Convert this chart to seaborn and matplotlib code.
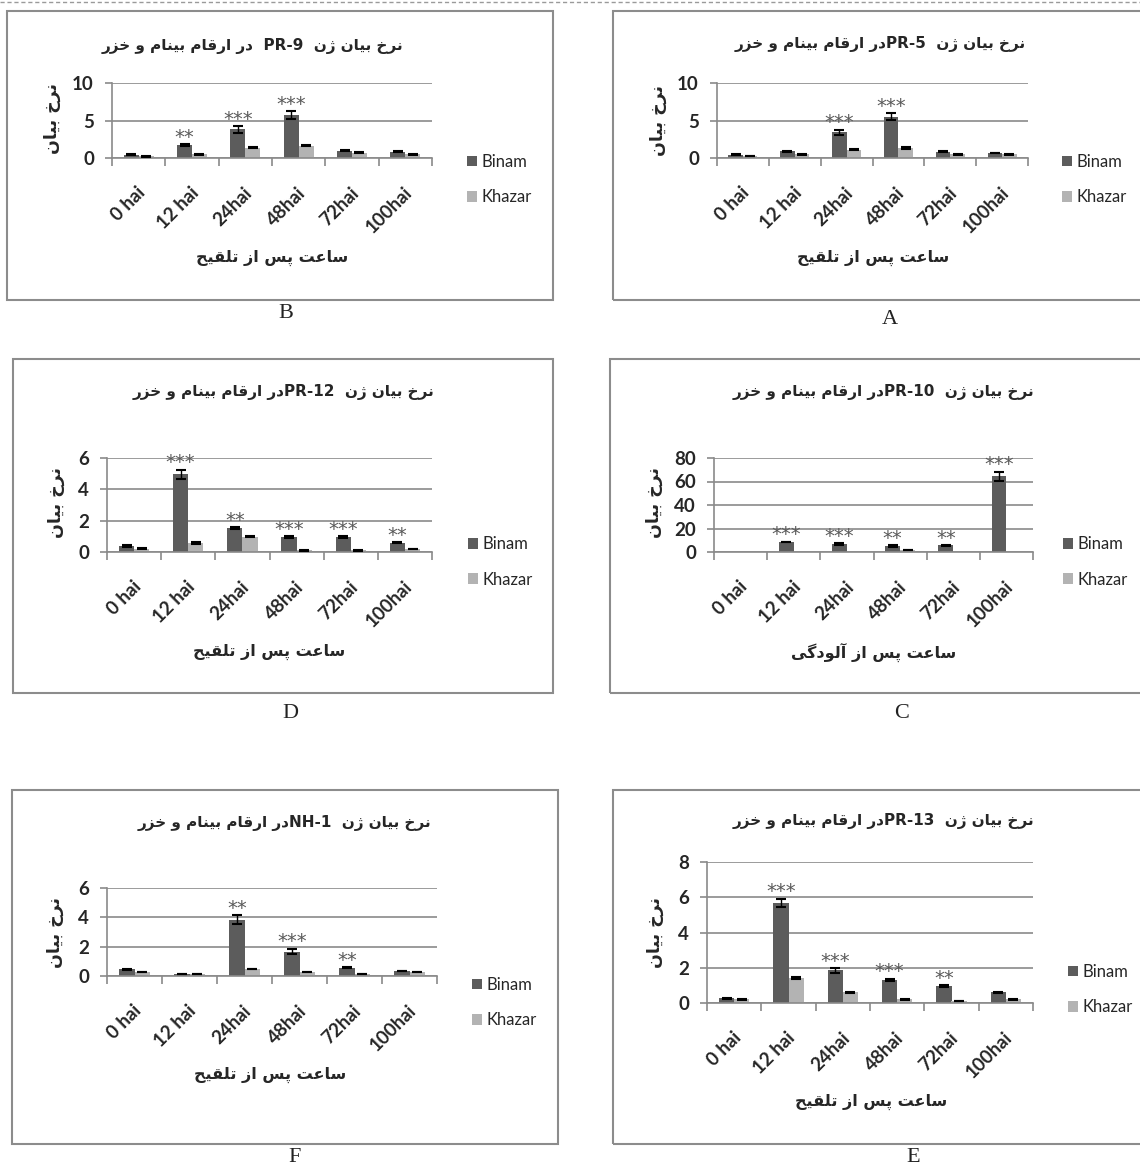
import re
import numpy as np
import pandas as pd
import matplotlib
matplotlib.use("Agg")
import matplotlib.pyplot as plt
import seaborn as sns
from matplotlib.patches import Rectangle
from matplotlib.lines import Line2D
from matplotlib.transforms import ScaledTranslation

# ---------------------------------------------------------------- data
hours = ["0 hai", "12 hai", "24hai", "48hai", "72hai", "100hai"]
varieties = ["Binam", "Khazar"]

# A: PR-5
pr5_binam = [0.44, 0.88, 3.44, 5.5, 0.84, 0.66]
pr5_khazar = [0.26, 0.48, 1.1, 1.32, 0.48, 0.48]
pr5_binam_err = [0.05, 0.05, 0.35, 0.45, 0.05, 0.05]
pr5_khazar_err = [0.03, 0.03, 0.05, 0.12, 0.03, 0.03]
pr5_stars = ["", "", "***", "***", "", ""]

# B: PR-9
pr9_binam = [0.44, 1.72, 3.83, 5.73, 1.0, 0.84]
pr9_khazar = [0.22, 0.48, 1.4, 1.63, 0.7, 0.48]
pr9_binam_err = [0.05, 0.12, 0.45, 0.55, 0.1, 0.08]
pr9_khazar_err = [0.03, 0.05, 0.05, 0.05, 0.05, 0.05]
pr9_stars = ["", "**", "***", "***", "", ""]

# C: PR-10
pr10_binam = [0.0, 8.5, 6.5, 5.1, 5.7, 64.5]
pr10_khazar = [0.0, 0.0, 0.0, 1.8, 0.0, 0.0]
pr10_binam_err = [0.0, 0.4, 0.8, 0.8, 0.4, 4.0]
pr10_khazar_err = [0.0, 0.0, 0.0, 0.2, 0.0, 0.0]
pr10_stars = ["", "***", "***", "**", "**", "***"]

# D: PR-12
pr12_binam = [0.38, 4.96, 1.55, 0.96, 0.96, 0.6]
pr12_khazar = [0.21, 0.6, 0.96, 0.1, 0.1, 0.2]
pr12_binam_err = [0.04, 0.3, 0.06, 0.04, 0.04, 0.05]
pr12_khazar_err = [0.02, 0.06, 0.03, 0.02, 0.02, 0.02]
pr12_stars = ["", "***", "**", "***", "***", "**"]

# E: PR-13
pr13_binam = [0.28, 5.67, 1.85, 1.32, 0.95, 0.6]
pr13_khazar = [0.2, 1.42, 0.6, 0.2, 0.1, 0.2]
pr13_binam_err = [0.03, 0.25, 0.15, 0.06, 0.05, 0.03]
pr13_khazar_err = [0.02, 0.06, 0.03, 0.02, 0.01, 0.02]
pr13_stars = ["", "***", "***", "***", "**", ""]

# F: NH-1
nh1_binam = [0.45, 0.15, 3.84, 1.67, 0.57, 0.34]
nh1_khazar = [0.27, 0.15, 0.48, 0.27, 0.15, 0.27]
nh1_binam_err = [0.04, 0.02, 0.3, 0.2, 0.05, 0.03]
nh1_khazar_err = [0.03, 0.02, 0.03, 0.03, 0.02, 0.03]
nh1_stars = ["", "", "**", "***", "**", ""]

genes = {"A": "PR-5", "B": "PR-9", "C": "PR-10", "D": "PR-12", "E": "PR-13", "F": "NH-1"}
panel_values = {
    "A": (pr5_binam, pr5_khazar, pr5_binam_err, pr5_khazar_err, pr5_stars),
    "B": (pr9_binam, pr9_khazar, pr9_binam_err, pr9_khazar_err, pr9_stars),
    "C": (pr10_binam, pr10_khazar, pr10_binam_err, pr10_khazar_err, pr10_stars),
    "D": (pr12_binam, pr12_khazar, pr12_binam_err, pr12_khazar_err, pr12_stars),
    "E": (pr13_binam, pr13_khazar, pr13_binam_err, pr13_khazar_err, pr13_stars),
    "F": (nh1_binam, nh1_khazar, nh1_binam_err, nh1_khazar_err, nh1_stars),
}
y_ticks = {
    "A": [0, 5, 10], "B": [0, 5, 10], "C": [0, 20, 40, 60, 80],
    "D": [0, 2, 4, 6], "E": [0, 2, 4, 6, 8], "F": [0, 2, 4, 6],
}

title_text = {
    "B": "نرخ بیان ژن  PR-9  در ارقام بینام و خزر",
}
for k, g in genes.items():
    title_text.setdefault(k, f"نرخ بیان ژن  {g}در ارقام بینام و خزر")
ylabel_text = "نرخ بیان"
xlabel_text = {k: "ساعت پس از تلقیح" for k in genes}
xlabel_text["C"] = "ساعت پس از آلودگی"

# ---------------------------------------------------------------- Persian shaping
# isolated, final, initial, medial presentation forms
FORMS = {
    "ا": ("\uFE8D", "\uFE8E", None, None),
    "آ": ("\uFE81", "\uFE82", None, None),
    "ب": ("\uFE8F", "\uFE90", "\uFE91", "\uFE92"),
    "پ": ("\uFB56", "\uFB57", "\uFB58", "\uFB59"),
    "ت": ("\uFE95", "\uFE96", "\uFE97", "\uFE98"),
    "ح": ("\uFEA1", "\uFEA2", "\uFEA3", "\uFEA4"),
    "خ": ("\uFEA5", "\uFEA6", "\uFEA7", "\uFEA8"),
    "د": ("\uFEA9", "\uFEAA", None, None),
    "ر": ("\uFEAD", "\uFEAE", None, None),
    "ز": ("\uFEAF", "\uFEB0", None, None),
    "ژ": ("\uFB8A", "\uFB8B", None, None),
    "س": ("\uFEB1", "\uFEB2", "\uFEB3", "\uFEB4"),
    "ع": ("\uFEC9", "\uFECA", "\uFECB", "\uFECC"),
    "ق": ("\uFED5", "\uFED6", "\uFED7", "\uFED8"),
    "گ": ("\uFB92", "\uFB93", "\uFB94", "\uFB95"),
    "ل": ("\uFEDD", "\uFEDE", "\uFEDF", "\uFEE0"),
    "م": ("\uFEE1", "\uFEE2", "\uFEE3", "\uFEE4"),
    "ن": ("\uFEE5", "\uFEE6", "\uFEE7", "\uFEE8"),
    "و": ("\uFEED", "\uFEEE", None, None),
    "ی": ("\uFBFC", "\uFBFD", "\uFBFE", "\uFBFF"),
}


def shape(s):
    out = []
    for i, ch in enumerate(s):
        f = FORMS.get(ch)
        if f is None:
            out.append(ch)
            continue
        prev = s[i - 1] if i > 0 else None
        nxt = s[i + 1] if i + 1 < len(s) else None
        jp = prev in FORMS and FORMS[prev][2] is not None
        jn = f[2] is not None and nxt in FORMS
        out.append(f[3] if jp and jn else f[1] if jp else f[2] if jn else f[0])
    return "".join(out)


def rtl(text):
    runs = re.findall(r"[A-Za-z0-9\-]+|[^A-Za-z0-9\-]+", text)
    vis = []
    for r in reversed(runs):
        vis.append(r if re.match(r"[A-Za-z0-9\-]", r) else shape(r)[::-1])
    return "".join(vis)


# ---------------------------------------------------------------- layout (pixels)
W, H = 1140, 1169
layout = {
    "A": dict(box=(613, 11, 1150, 300), axes=(717, 83, 1028, 158), title=(880, 44),
              ylabel=(658, 120), xlabel=(873, 258), legend=(1062, 162, 197), letter=(890, 319)),
    "B": dict(box=(7, 11, 553, 300), axes=(112, 83, 432, 158), title=(252, 46),
              ylabel=(52, 119), xlabel=(272, 258), legend=(467, 162, 197), letter=(286, 314)),
    "C": dict(box=(610, 359, 1150, 693), axes=(714, 458, 1033, 552), title=(883, 392),
              ylabel=(654, 503), xlabel=(874, 652), legend=(1063, 544, 580), letter=(902, 713)),
    "D": dict(box=(13, 359, 553, 693), axes=(107, 458, 432, 552), title=(283, 392),
              ylabel=(56, 503), xlabel=(269, 652), legend=(468, 544, 580), letter=(290, 713)),
    "E": dict(box=(613, 790, 1150, 1144), axes=(707, 862, 1033, 1003), title=(883, 821),
              ylabel=(655, 932), xlabel=(871, 1102), legend=(1068, 972, 1007), letter=(913, 1157)),
    "F": dict(box=(12, 790, 558, 1144), axes=(107, 888, 437, 976), title=(284, 823),
              ylabel=(55, 932), xlabel=(270, 1075), legend=(472, 985, 1020), letter=(295, 1157)),
}

sns.set_style("white")
plt.rcParams["font.family"] = ["Lato", "DejaVu Sans"]

GRID = "#8a8a8a"
palette = {"Binam": "#5c5c5c", "Khazar": "#b3b3b3"}
PERSIAN = ["DejaVu Sans"]

fig = plt.figure(figsize=(W / 100, H / 100), dpi=100)


def fx(px):
    return px / W


def fy(py):
    return 1 - py / H


# dashed rule along the top
fig.add_artist(Line2D([0, 1], [fy(1.5), fy(1.5)], transform=fig.transFigure,
                      color="#9a9a9a", lw=1.0, ls=(0, (3, 2))))

for key, lay in layout.items():
    binam, khazar, berr, kerr, stars = panel_values[key]
    bx0, by0, bx1, by1 = lay["box"]
    fig.add_artist(Rectangle((fx(bx0), fy(by1)), fx(bx1 - bx0), (by1 - by0) / H,
                             transform=fig.transFigure, fill=False,
                             edgecolor="#8c8c8c", lw=1.5))

    x0, yt, x1, yb = lay["axes"]
    ax = fig.add_axes([fx(x0), fy(yb), fx(x1 - x0), (yb - yt) / H])

    df = pd.DataFrame({
        "hour": hours * 2,
        "variety": [varieties[0]] * len(hours) + [varieties[1]] * len(hours),
        "value": list(binam) + list(khazar),
    })
    sns.barplot(data=df, x="hour", y="value", hue="variety", order=hours,
                hue_order=varieties, palette=palette, width=0.56,
                errorbar=None, ax=ax, linewidth=0, saturation=1)

    errs = [berr, kerr]
    for ci, (cont, err) in enumerate(zip(ax.containers, errs)):
        xs = np.array([p.get_x() + p.get_width() / 2 for p in cont])
        hs = np.array([p.get_height() for p in cont])
        err = np.asarray(err)
        shown = (hs > 0) | (err > 0)
        ax.errorbar(xs[shown], hs[shown], yerr=err[shown], fmt="none", ecolor="black",
                    elinewidth=1.0, capsize=3.5, capthick=1.5, zorder=3)
        if ci == 0:
            for x, h, e, s in zip(xs, hs, err, stars):
                if s:
                    ax.annotate(s, (x, h + e), xytext=(0, -2), textcoords="offset points",
                                ha="center", va="bottom", fontsize=14,
                                color="#5a5a5a", family="DejaVu Sans")

    ticks = y_ticks[key]
    ax.set_ylim(0, ticks[-1])
    ax.set_xlim(-0.5, len(hours) - 0.5)
    ax.set_yticks(ticks)
    ax.set_yticklabels([str(t) for t in ticks], fontsize=13.5, fontweight="bold")
    ax.yaxis.grid(True, color=GRID, lw=1.2)
    ax.set_axisbelow(True)
    for side in ("top", "right"):
        ax.spines[side].set_visible(False)
    for side in ("left", "bottom"):
        ax.spines[side].set_color(GRID)
        ax.spines[side].set_linewidth(1.2)
    ax.tick_params(axis="y", length=5, width=1.2, color=GRID, pad=8, left=True)

    ax.set_xticks(range(len(hours)))
    ax.set_xticklabels(hours, rotation=45, ha="right", va="center",
                       rotation_mode="anchor", fontsize=13.5, fontweight="bold")
    ax.set_xticks(np.arange(-0.5, len(hours), 1.0), minor=True)
    ax.tick_params(axis="x", which="major", length=0, pad=23)
    ax.tick_params(axis="x", which="minor", length=6, width=1.2, color=GRID,
                   direction="out", bottom=True)
    for lbl in ax.get_xticklabels():
        lbl.set_transform(lbl.get_transform() + ScaledTranslation(4 / 100, 0, fig.dpi_scale_trans))
    ax.set_xlabel("")
    ax.set_ylabel("")

    handles, labels = ax.get_legend_handles_labels()
    ax.get_legend().remove()
    lx, ly0, ly1 = lay["legend"]
    fig.legend(handles[:2], labels[:2], loc="center left",
               bbox_to_anchor=(fx(lx), fy((ly0 + ly1) / 2)), frameon=False,
               fontsize=12, handlelength=0.6, handleheight=0.6,
               handletextpad=0.25, labelspacing=1.15, borderpad=0, borderaxespad=0)

    tx, ty = lay["title"]
    fig.text(fx(tx), fy(ty), rtl(title_text[key]), ha="center", va="center",
             fontsize=11, fontweight="bold", family=PERSIAN)
    yx, yy = lay["ylabel"]
    fig.text(fx(yx), fy(yy), rtl(ylabel_text), ha="center", va="center", rotation=90,
             fontsize=12.5, fontweight="bold", family=PERSIAN)
    xx, xy = lay["xlabel"]
    fig.text(fx(xx), fy(xy), rtl(xlabel_text[key]), ha="center", va="center",
             fontsize=11.5, fontweight="bold", family=PERSIAN)
    cx, cy = lay["letter"]
    fig.text(fx(cx), fy(cy), key, ha="center", va="center", fontsize=16,
             family=["Liberation Serif"], color="#222222")

fig.savefig("out.png", dpi=100, facecolor="white")
